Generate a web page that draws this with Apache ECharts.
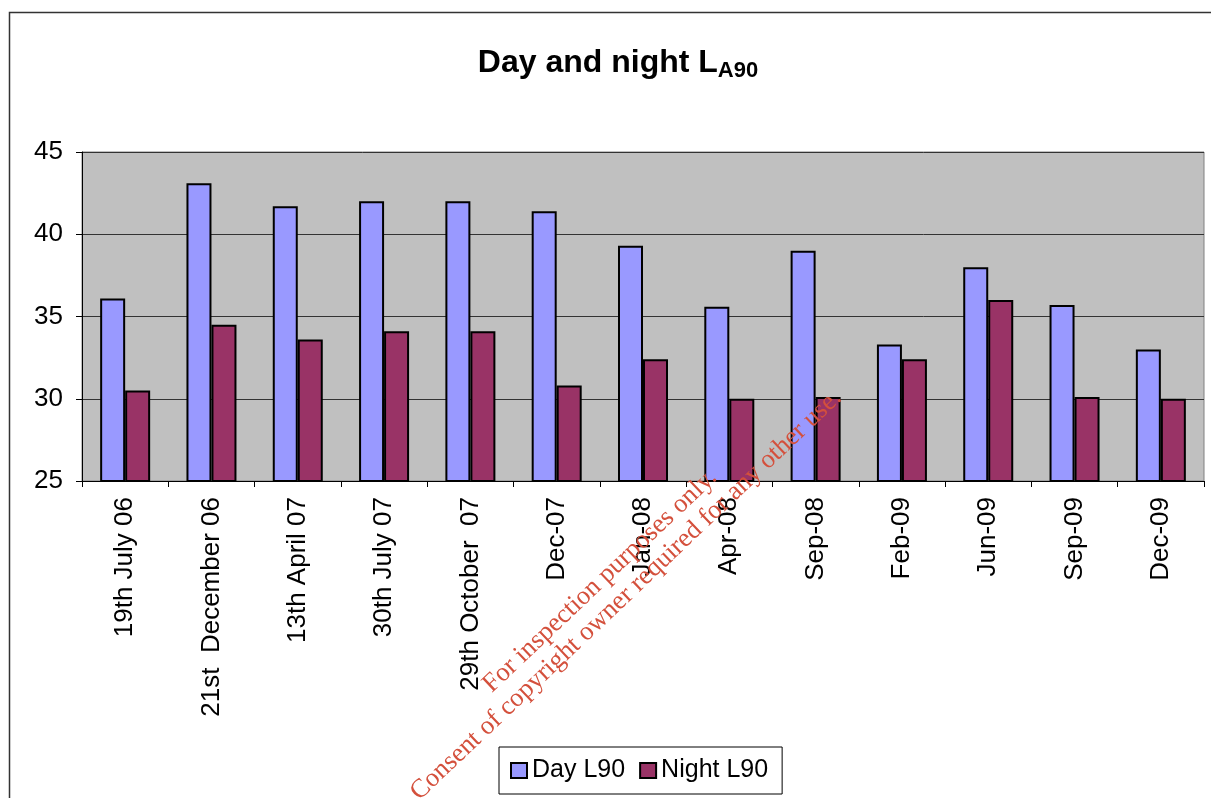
<!DOCTYPE html>
<html>
<head>
<meta charset="utf-8">
<script src="https://cdn.jsdelivr.net/npm/echarts@6/dist/echarts.min.js"></script>
<style>
html,body{margin:0;padding:0;background:#fff;}
#chart{width:1211px;height:798px;}
</style>
</head>
<body>
<div id="chart"></div>
<script>
const categories = ['19th July 06', '21st  December 06', '13th April 07', '30th July 07', '29th October  07', 'Dec-07', 'Jan-08', 'Apr-08', 'Sep-08', 'Feb-09', 'Jun-09', 'Sep-09', 'Dec-09'];
const dayL90 = [36.1, 43.1, 41.7, 42.0, 42.0, 41.4, 39.3, 35.6, 39.0, 33.3, 38.0, 35.7, 33.0];
const nightL90 = [30.5, 34.5, 33.6, 34.1, 34.1, 30.8, 32.4, 30.0, 30.1, 32.4, 36.0, 30.1, 30.0];
const yTicks = [25, 30, 35, 40, 45];
const watermark = ['For inspection purposes only.', 'Consent of copyright owner required for any other use.'];

const FONT = '"Liberation Sans", Arial, sans-serif';
const chart = echarts.init(document.getElementById('chart'));
const ang = 43.5 * Math.PI / 180;
const WM_FONT = '26.5px "Liberation Serif", "Times New Roman", serif';

chart.setOption({
  animation: false,
  backgroundColor: '#ffffff',
  title: {
    text: '{a|Day and night L}{b|A90}',
    left: 613, top: 39, textAlign: 'center',
    textStyle: {
      rich: {
        a: {fontSize: 32, fontWeight: 'bold', fontFamily: FONT, color: '#000', lineHeight: 38, verticalAlign: 'middle'},
        b: {fontSize: 22, fontWeight: 'bold', fontFamily: FONT, color: '#000', lineHeight: 22, verticalAlign: 'bottom'}
      }
    }
  },
  legend: {
    data: ['Day L90', 'Night L90'],
    left: 499, top: 747,
    orient: 'horizontal',
    icon: 'rect',
    itemWidth: 16, itemHeight: 15, itemGap: 14,
    padding: [11, 14, 11, 11],
    borderColor: '#000', borderWidth: 1,
    backgroundColor: '#fff',
    textStyle: {fontSize: 25, fontFamily: FONT, color: '#000'}
  },
  grid: {left: 82, top: 152, right: 7, bottom: 317, show: true, backgroundColor: '#c0c0c0', borderColor: '#808080', borderWidth: 1, containLabel: false},
  xAxis: {
    type: 'category',
    data: categories,
    boundaryGap: true,
    axisLine: {show: true, lineStyle: {color: '#000', width: 1}},
    axisTick: {show: true, length: 6, lineStyle: {color: '#000'}, alignWithLabel: false},
    axisLabel: {rotate: 90, fontSize: 26, fontFamily: FONT, color: '#000', margin: 16, interval: 0}
  },
  yAxis: {
    type: 'value',
    min: yTicks[0], max: yTicks[yTicks.length - 1], interval: 5,
    axisLine: {show: true, lineStyle: {color: '#000', width: 1}},
    axisTick: {show: true, length: 6, lineStyle: {color: '#000'}},
    axisLabel: {fontSize: 26, fontFamily: FONT, color: '#000', margin: 19},
    splitLine: {show: true, lineStyle: {color: '#333', width: 1}}
  },
  series: [
    {name: 'Day L90', type: 'bar', data: dayL90, barWidth: 25, barGap: '0%',
     itemStyle: {color: '#9999ff', borderColor: '#000', borderWidth: 2}},
    {name: 'Night L90', type: 'bar', data: nightL90, barWidth: 25, barGap: '0%',
     itemStyle: {color: '#993366', borderColor: '#000', borderWidth: 2}}
  ],
  graphic: [
    {type: 'rect', shape: {x: 9.5, y: 12.5, width: 1220, height: 800}, style: {fill: 'none', stroke: '#333', lineWidth: 1.5}, z: 100, silent: true},
    {type: 'text', x: 600, y: 581, rotation: ang, z: 200, silent: true,
     style: {text: watermark[0], font: WM_FONT, fill: '#d4503c', textAlign: 'center', textVerticalAlign: 'middle'}},
    {type: 'text', x: 626, y: 595, rotation: ang, z: 200, silent: true,
     style: {text: watermark[1], font: WM_FONT, fill: '#d4503c', textAlign: 'center', textVerticalAlign: 'middle'}}
  ]
});
</script>
</body>
</html>
